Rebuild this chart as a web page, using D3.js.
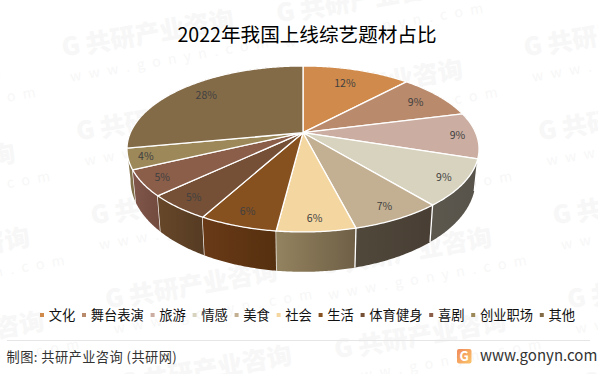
<!DOCTYPE html>
<html lang="zh">
<head>
<meta charset="utf-8">
<script src="https://cdn.jsdelivr.net/npm/d3@7/dist/d3.min.js"></script>
<style>
html,body{margin:0;padding:0;background:#fff}
svg{display:block}
text{font-family:"Noto Sans CJK SC","Noto Sans",sans-serif}
</style>
</head>
<body>
<svg id="chart" width="598" height="374"></svg>
<script>
const categories = ["文化","舞台表演","旅游","情感","美食","社会","生活","体育健身","喜剧","创业职场","其他"];
const values = [12,9,9,9,7,6,6,5,5,4,28];
const topColors = ["#D08B4C","#BA8A6C","#CBAEA1","#D8D3BF","#C3B092","#F4D6A0","#87501F","#755036","#8B5E4A","#9C8859","#846B48"];
const wallStart = ["#8c5d33","#7d5d49","#88756c","#5c584e","#51483c","#93835f","#6a3a17","#674729","#80564a","#8b7a52","#5a4931"];
const wallEnd   = ["#7e5430","#705341","#7a6960","#57534a","#483e33","#6f5f46","#55300f","#553b23","#724b3e","#7b6b46","#503f2a"];
const labelFractions = [0.75,0.82,0.89,0.89,0.88,0.885,0.87,0.89,0.89,0.905,0.80];
const titleText = "2022年我国上线综艺题材占比";
const footerText = "制图: 共研产业咨询 (共研网)";
const siteText = "www.gonyn.com";
const wmMain = "共研产业咨询";
const wmSub = "w w w . g o n y n . c o m";

const svg = d3.select("#chart");
const defs = svg.append("defs");

/* ---------- watermark lattice ---------- */
const wm = svg.append("g").attr("fill","#f7f7f7");
d3.range(-1,4).forEach(col=>{
  d3.range(-1,5).forEach(row=>{
    const odd = ((col%2)+2)%2===1;
    const x = 72 + col*231 + row*14.5 + (odd?-2:0);
    const y = (odd?97:47) + row*84;
    if(x<-175||x>598||y<0||y>395) return;
    const g = wm.append("g").attr("transform",`translate(${x},${y}) rotate(-10)`);
    g.append("text").attr("x",-10).attr("y",8).attr("font-size",25).attr("font-weight",900).attr("font-family","'DejaVu Sans',sans-serif").text("G");
    g.append("text").attr("x",14).attr("y",9).attr("font-size",25).attr("font-weight",900).text(wmMain);
    g.append("text").attr("x",-7).attr("y",34).attr("font-size",14).attr("letter-spacing",2.2).attr("font-family","'DejaVu Sans',sans-serif").text(wmSub);
  });
});

/* ---------- perspective pie ---------- */
const cx = 303, apexY = 132.7, R = 172.6, S = 79.8, p = 0.196;
const baseY = 162, baseS = 88.3, baseX = 0.98;
function rim(a,t=1){const u=Math.sin(a)*t,v=-Math.cos(a)*t,k=1/(1-p*v);return [cx+R*u*k,apexY+S*v*k];}
function base(a){const u=Math.sin(a),v=-Math.cos(a),k=1/(1-p*v);return [cx+R*baseX*u*k,baseY+baseS*v*k];}

const arcs = d3.pie().sort(null).startAngle(0).endAngle(2*Math.PI)(values);
const lineGen = d3.line();
const samples = (a,b)=>{const n=Math.max(2,Math.ceil((b-a)/0.01));return d3.range(n+1).map(i=>a+(b-a)*i/n);};

const pieG = svg.append("g");

/* side walls, back-to-front */
const order = arcs.map((d,i)=>i).sort((i,j)=>{
  const v=d=>-Math.cos((d.startAngle+d.endAngle)/2);
  return v(arcs[i])-v(arcs[j]);
});
order.forEach(i=>{
  const d=arcs[i];
  const gid="wall"+i;
  const lg=defs.append("linearGradient").attr("id",gid).attr("x1",0).attr("x2",1).attr("y1",0).attr("y2",0);
  lg.append("stop").attr("offset",0).attr("stop-color",wallStart[i]);
  lg.append("stop").attr("offset",1).attr("stop-color",wallEnd[i]);
  const as=samples(d.startAngle,d.endAngle);
  const pts=as.map(a=>rim(a)).concat(as.slice().reverse().map(base));
  pieG.append("path").attr("d",lineGen(pts)+"Z").attr("fill",`url(#${gid})`).attr("stroke","none");
  const a=d.startAngle;
  if(-Math.cos(a)>-0.05){
    pieG.append("path").attr("d",lineGen([rim(a),base(a)])).attr("stroke","#fff").attr("stroke-width",1.3).attr("fill","none");
  }
});

/* top faces */
arcs.forEach((d,i)=>{
  const as=samples(d.startAngle,d.endAngle);
  const pts=[rim(0,0)].concat(as.map(a=>rim(a)));
  pieG.append("path").attr("d",lineGen(pts)+"Z").attr("fill",topColors[i]).attr("stroke","#fff").attr("stroke-width",1.3).attr("stroke-linejoin","round");
});

/* percent labels */
arcs.forEach((d,i)=>{
  const m=(d.startAngle+d.endAngle)/2;
  const [x,y]=rim(m,labelFractions[i]);
  pieG.append("text").attr("x",x).attr("y",y).attr("dy","0.35em").attr("text-anchor","middle")
    .attr("font-size",10.5).attr("fill","#404040").text(d.value+"%");
});

/* ---------- title ---------- */
svg.append("text").attr("x",307).attr("y",42).attr("text-anchor","middle").attr("font-size",19.6).attr("fill","#000").text(titleText);

/* ---------- legend ---------- */
const legendG=svg.append("g");
const lx=d3.scaleOrdinal().domain(categories).range(Array.from(d3.cumsum([42].concat(categories.slice(0,-1).map(c=>c.length*13.3+15.4)))));
categories.forEach((c,i)=>{
  const x=lx(c);
  legendG.append("rect").attr("x",x-2).attr("y",313).attr("width",4).attr("height",4).attr("fill",topColors[i]);
  legendG.append("text").attr("x",x+6.7).attr("y",315).attr("dy","0.36em").attr("font-size",13.3).attr("fill","#111").text(c);
});

/* ---------- footer ---------- */
svg.append("line").attr("x1",7).attr("x2",590).attr("y1",340.5).attr("y2",340.5).attr("stroke","#e6e6e6");
svg.append("text").attr("x",6.5).attr("y",357).attr("dy","0.36em").attr("font-size",13.2).attr("fill","#333").attr("letter-spacing",0.45).text(footerText);
const logo=defs.append("linearGradient").attr("id","logo").attr("x1",0).attr("x2",1).attr("y1",0).attr("y2",1);
logo.append("stop").attr("offset",0).attr("stop-color","#f08a5a");
logo.append("stop").attr("offset",1).attr("stop-color","#fbc46a");
svg.append("rect").attr("x",457).attr("y",349).attr("width",14.5).attr("height",14.5).attr("rx",2).attr("fill","url(#logo)");
svg.append("text").attr("x",464.2).attr("y",356.4).attr("dy","0.36em").attr("text-anchor","middle").attr("font-size",13).attr("font-weight",700).attr("font-family","'DejaVu Sans',sans-serif").attr("fill","#fff").text("G");
svg.append("text").attr("x",480).attr("y",356).attr("dy","0.36em").attr("font-size",15).attr("font-family","'Liberation Sans',sans-serif").attr("fill","#333").text(siteText);
</script>
</body>
</html>
